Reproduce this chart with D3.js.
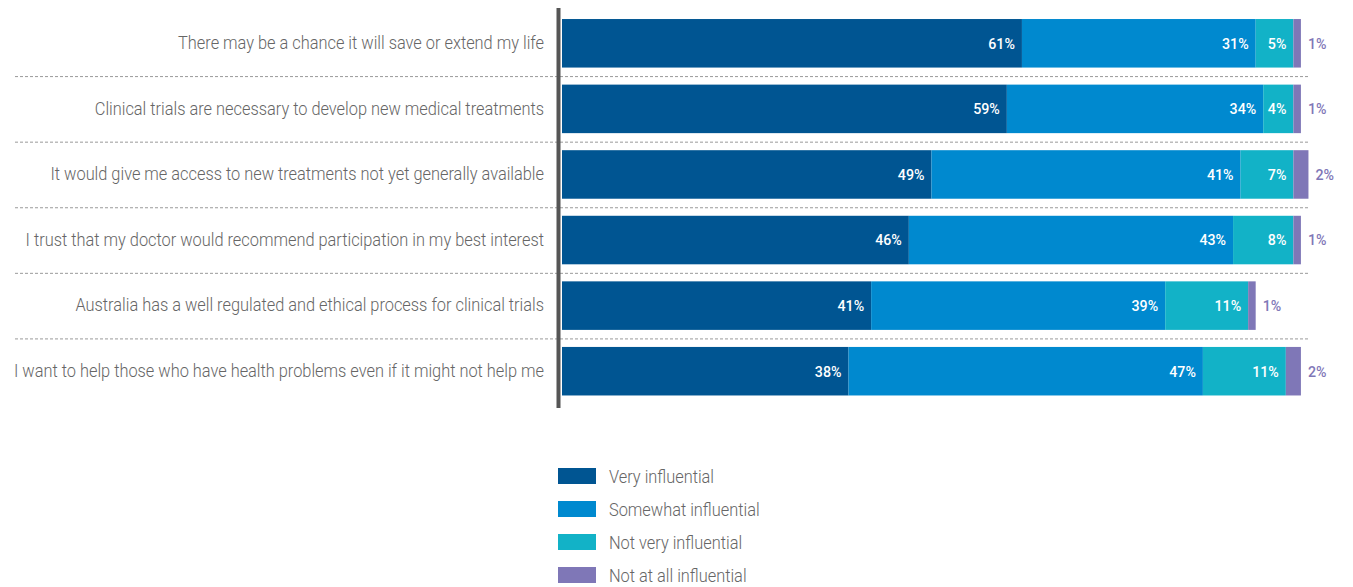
<!DOCTYPE html>
<html><head><meta charset="utf-8">
<script src="https://cdn.jsdelivr.net/npm/d3@7"></script>
<style>
body{margin:0;background:#fff;}
svg{display:block;}
</style></head>
<body>
<svg id="chart" width="1353" height="587"></svg>
<script>
const categories = [
  "There may be a chance it will save or extend my life",
  "Clinical trials are necessary to develop new medical treatments",
  "It would give me access to new treatments not yet generally available",
  "I trust that my doctor would recommend participation in my best interest",
  "Australia has a well regulated and ethical process for clinical trials",
  "I want to help those who have health problems even if it might not help me"
];
const seriesNames = ["Very influential","Somewhat influential","Not very influential","Not at all influential"];
const veryInfluential      = [61,59,49,46,41,38];
const somewhatInfluential  = [31,34,41,43,39,47];
const notVeryInfluential   = [5,4,7,8,11,11];
const notAtAllInfluential  = [1,1,2,1,1,2];
const colors = ["#005592","#0089cf","#12b2c7","#7f77b7"];

const series = [veryInfluential, somewhatInfluential, notVeryInfluential, notAtAllInfluential];
const rows = categories.map((c,i)=>{ const o={cat:c}; seriesNames.forEach((s,j)=>o[s]=series[j][i]); return o; });
const stacked = d3.stack().keys(seriesNames)(rows);

const svg = d3.select("#chart");
const x = d3.scaleLinear().domain([0,100]).range([562,1316]);
const y = d3.scaleBand().domain(categories).range([10.5,404]).paddingInner(0.26).paddingOuter(0.13);
const font = "Roboto, 'Liberation Sans', sans-serif";
const condense = 0.91;

// separators
const step = y.step();
svg.append("g").selectAll("line").data(categories.slice(0,-1)).join("line")
  .attr("x1",15).attr("x2",1308)
  .attr("y1",d=>y(d)+y.bandwidth()+(step-y.bandwidth())/2+0.5)
  .attr("y2",d=>y(d)+y.bandwidth()+(step-y.bandwidth())/2+0.5)
  .attr("stroke","#9a9a9a").attr("stroke-width",1).attr("stroke-dasharray","3,2");

// bars
const g = svg.append("g");
stacked.forEach((s,j)=>{
  g.append("g").attr("fill",colors[j]).selectAll("rect").data(s).join("rect")
    .attr("x",d=>x(d[0])).attr("width",d=>x(d[1])-x(d[0]))
    .attr("y",d=>y(d.data.cat)).attr("height",y.bandwidth());
});

// value labels
stacked.forEach((s,j)=>{
  const last = j===stacked.length-1;
  g.append("g").selectAll("text").data(s).join("text")
    .attr("transform",d=>`translate(${last ? x(d[1])+7 : x(d[1])-7},${y(d.data.cat)+y.bandwidth()/2}) scale(0.95,1)`)
    .attr("dy","0.36em")
    .attr("text-anchor", last ? "start":"end")
    .attr("font-family",font).attr("font-size",15).attr("font-weight",500)
    .attr("fill", last ? colors[3] : "#fff")
    .text(d=>(d[1]-d[0])+"%");
});

// category axis
const yAxis = d3.axisLeft(y).tickSize(0).tickPadding(0);
const ax = svg.append("g").attr("transform","translate(544,0)").call(yAxis);
ax.select(".domain").remove();
ax.selectAll("text").attr("x",0).attr("transform",`scale(${condense},1)`)
  .attr("font-family",font).attr("font-size",18).attr("fill","#666").attr("font-weight",300);

// vertical axis line
svg.append("line").attr("x1",558.5).attr("x2",558.5).attr("y1",8).attr("y2",408)
  .attr("stroke","#555").attr("stroke-width",4);

// legend
const leg = svg.append("g").attr("transform","translate(558,468)");
const li = leg.selectAll("g").data(seriesNames).join("g").attr("transform",(d,i)=>`translate(0,${i*33})`);
li.append("rect").attr("width",38).attr("height",16).attr("fill",(d,i)=>colors[i]);
li.append("text").attr("transform",`translate(51,9) scale(${condense},1)`).attr("dy","0.35em")
  .attr("font-family",font).attr("font-size",18).attr("font-weight",300).attr("fill","#666").text(d=>d);
</script>
</body></html>
